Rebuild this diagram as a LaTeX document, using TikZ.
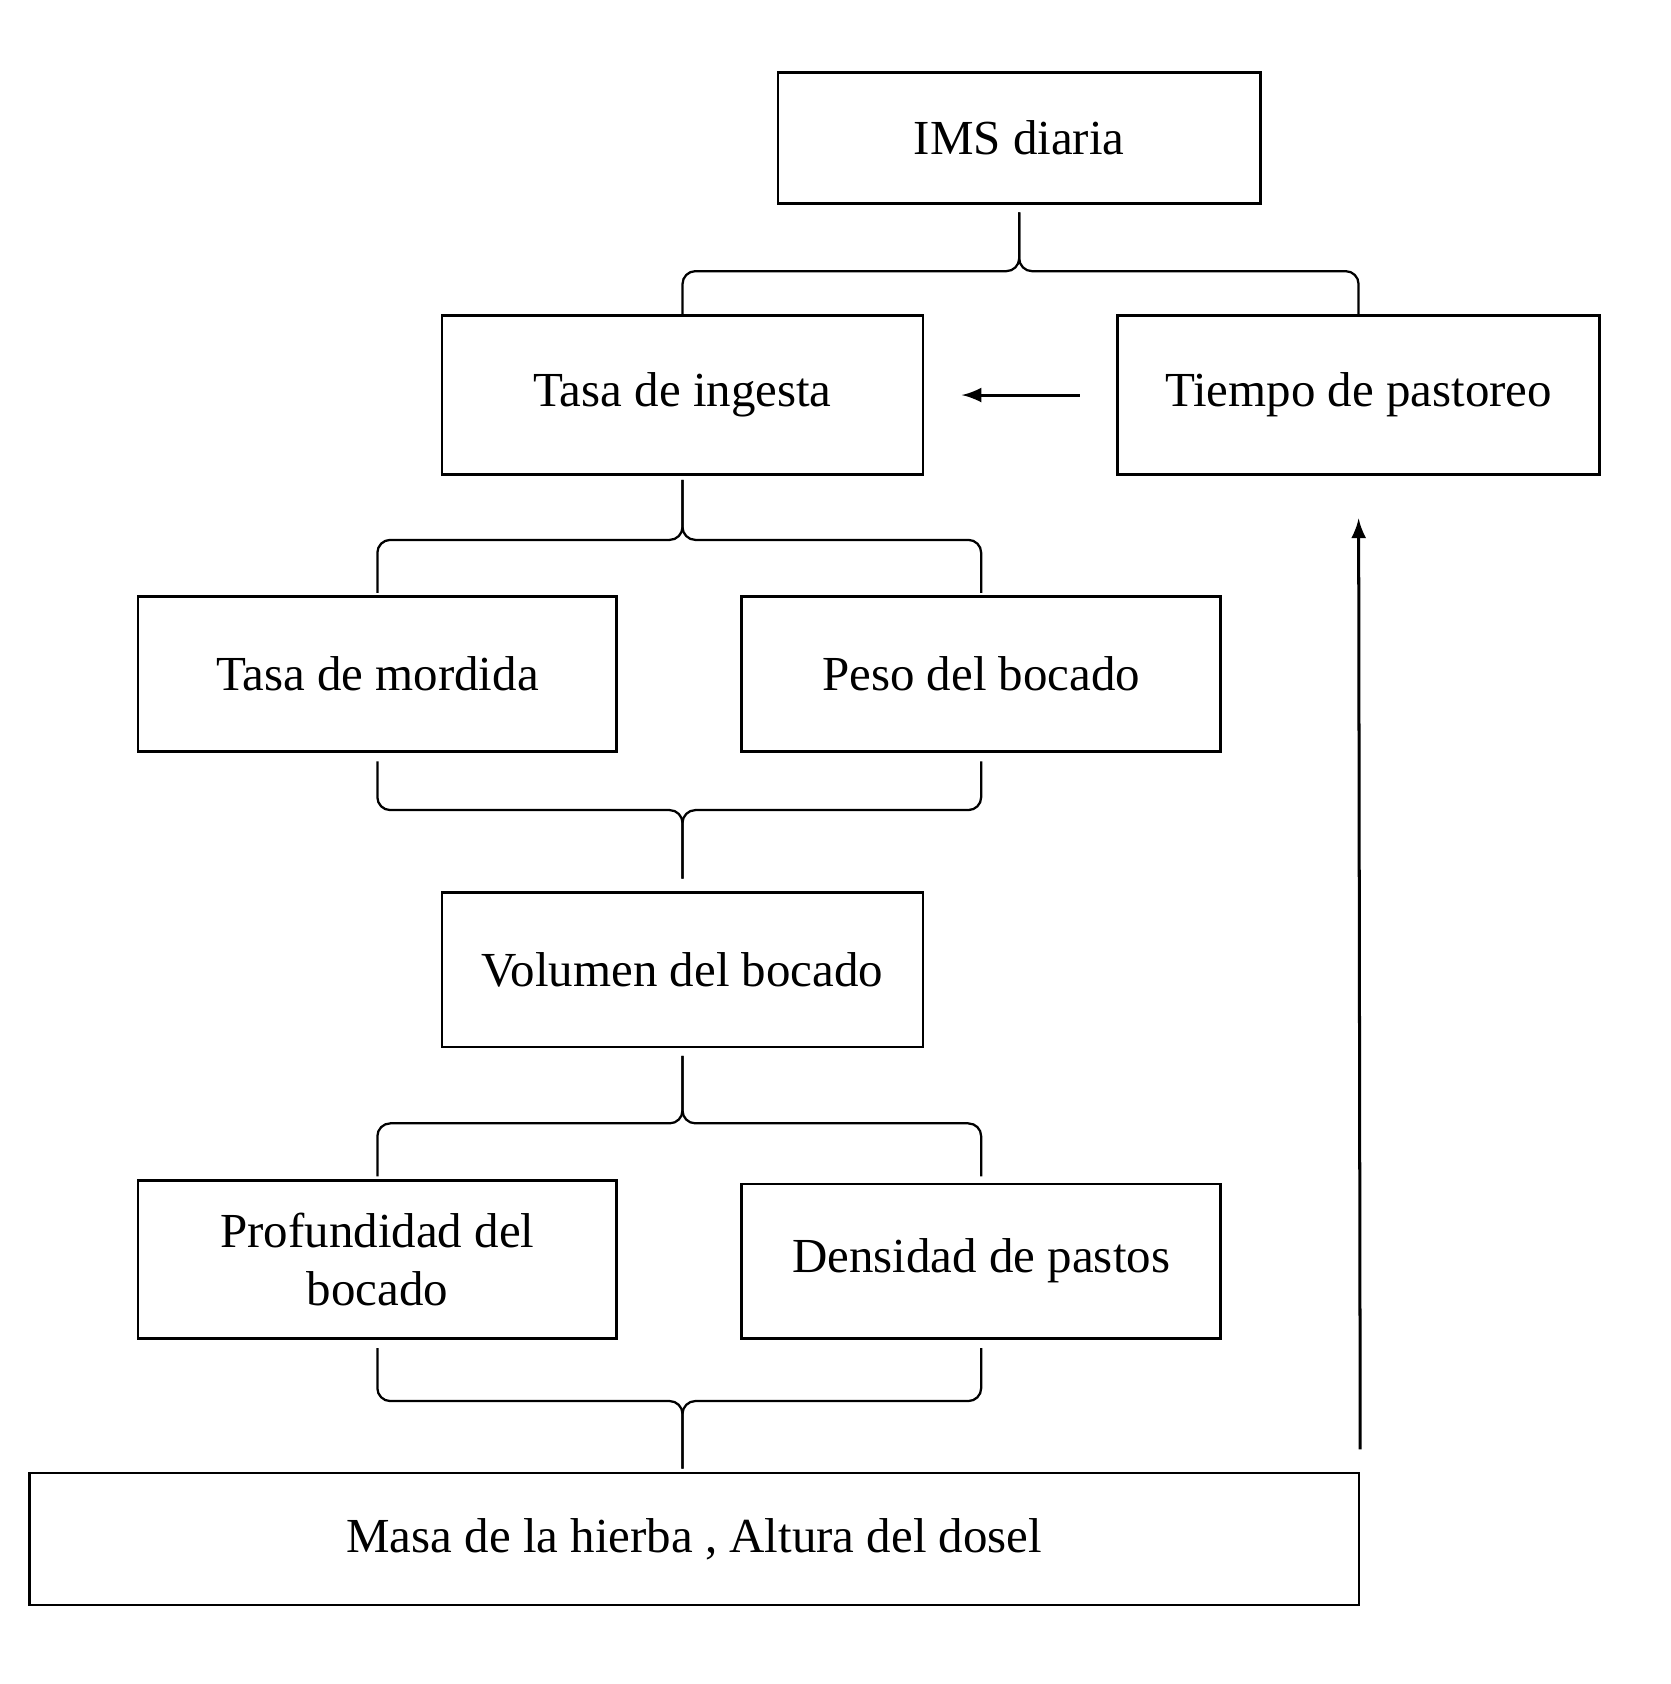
\documentclass[tikz,border=0pt]{standalone}
\usepackage{fontspec}
\setmainfont{Liberation Serif}
\usetikzlibrary{arrows}

\begin{document}
\begin{tikzpicture}[x=0.01cm, y=0.01cm,
  box/.style={draw, line width=0.7pt, inner sep=0pt, minimum width=4.47cm, align=center, font=\fontsize{13}{15.6}\selectfont},
  bracket/.style={line width=0.6pt, rounded corners=0.12cm},
  link/.style={-latex, line width=0.8pt}]
\useasboundingbox (0,0) rectangle (1560,-1573);

\node[box, minimum width=4.5cm, minimum height=1.22cm] (ims) at (952,-129) {IMS diaria};
\node[box, minimum width=4.49cm, minimum height=1.48cm] (ingesta) at (637.5,-369) {Tasa de ingesta};
\node[box, minimum width=4.5cm, minimum height=1.48cm] (tiempo) at (1269,-369) {Tiempo de pastoreo};

\node[box, minimum height=1.45cm] (mordida) at (352.5,-629.5) {Tasa de mordida};
\node[box, minimum height=1.45cm] (peso) at (916.5,-629.5) {Peso del bocado};

\node[box, minimum width=4.49cm, minimum height=1.44cm] (volumen) at (637.5,-906) {Volumen del bocado};

\node[box, minimum height=1.47cm] (profundidad) at (352.5,-1176.5) {Profundidad del\\bocado};
\node[box, minimum height=1.44cm] (densidad) at (916.5,-1178) {Densidad de pastos};

\node[box, minimum width=12.41cm, minimum height=1.23cm] (masa) at (648.5,-1437.5) {Masa de la hierba , Altura del dosel};
\coordinate (masatop) at (volumen.south |- masa.north);

\draw[bracket] (ingesta.north) |- ([yshift=-0.62cm]ims.south) -- ([yshift=-0.07cm]ims.south);
\draw[bracket] (tiempo.north) |- ([yshift=-0.62cm]ims.south) -- ([yshift=-0.07cm]ims.south);

\draw[bracket] ([yshift=0.02cm]mordida.north) |- ([yshift=-0.6cm]ingesta.south) -- ([yshift=-0.04cm]ingesta.south);
\draw[bracket] ([yshift=0.02cm]peso.north) |- ([yshift=-0.6cm]ingesta.south) -- ([yshift=-0.04cm]ingesta.south);

\draw[bracket] ([yshift=-0.08cm]mordida.south) |- ([yshift=0.76cm]volumen.north) -- ([yshift=0.12cm]volumen.north);
\draw[bracket] ([yshift=-0.08cm]peso.south) |- ([yshift=0.76cm]volumen.north) -- ([yshift=0.12cm]volumen.north);

\draw[bracket] ([yshift=0.03cm]profundidad.north) |- ([yshift=-0.7cm]volumen.south) -- ([yshift=-0.07cm]volumen.south);
\draw[bracket] ([yshift=0.06cm]densidad.north) |- ([yshift=-0.7cm]volumen.south) -- ([yshift=-0.07cm]volumen.south);

\draw[bracket] ([yshift=-0.08cm]profundidad.south) |- ([yshift=0.66cm]masatop) -- ([yshift=0.03cm]masatop);
\draw[bracket] ([yshift=-0.08cm]densidad.south) |- ([yshift=0.66cm]masatop) -- ([yshift=0.03cm]masatop);

\draw[link, shorten <=0.34cm, shorten >=0.35cm] (tiempo.west) -- (ingesta.east |- tiempo.west);
\draw[link, shorten <=0.21cm, shorten >=0.4cm] (masa.north east) -- (tiempo.south);

\end{tikzpicture}
\end{document}
